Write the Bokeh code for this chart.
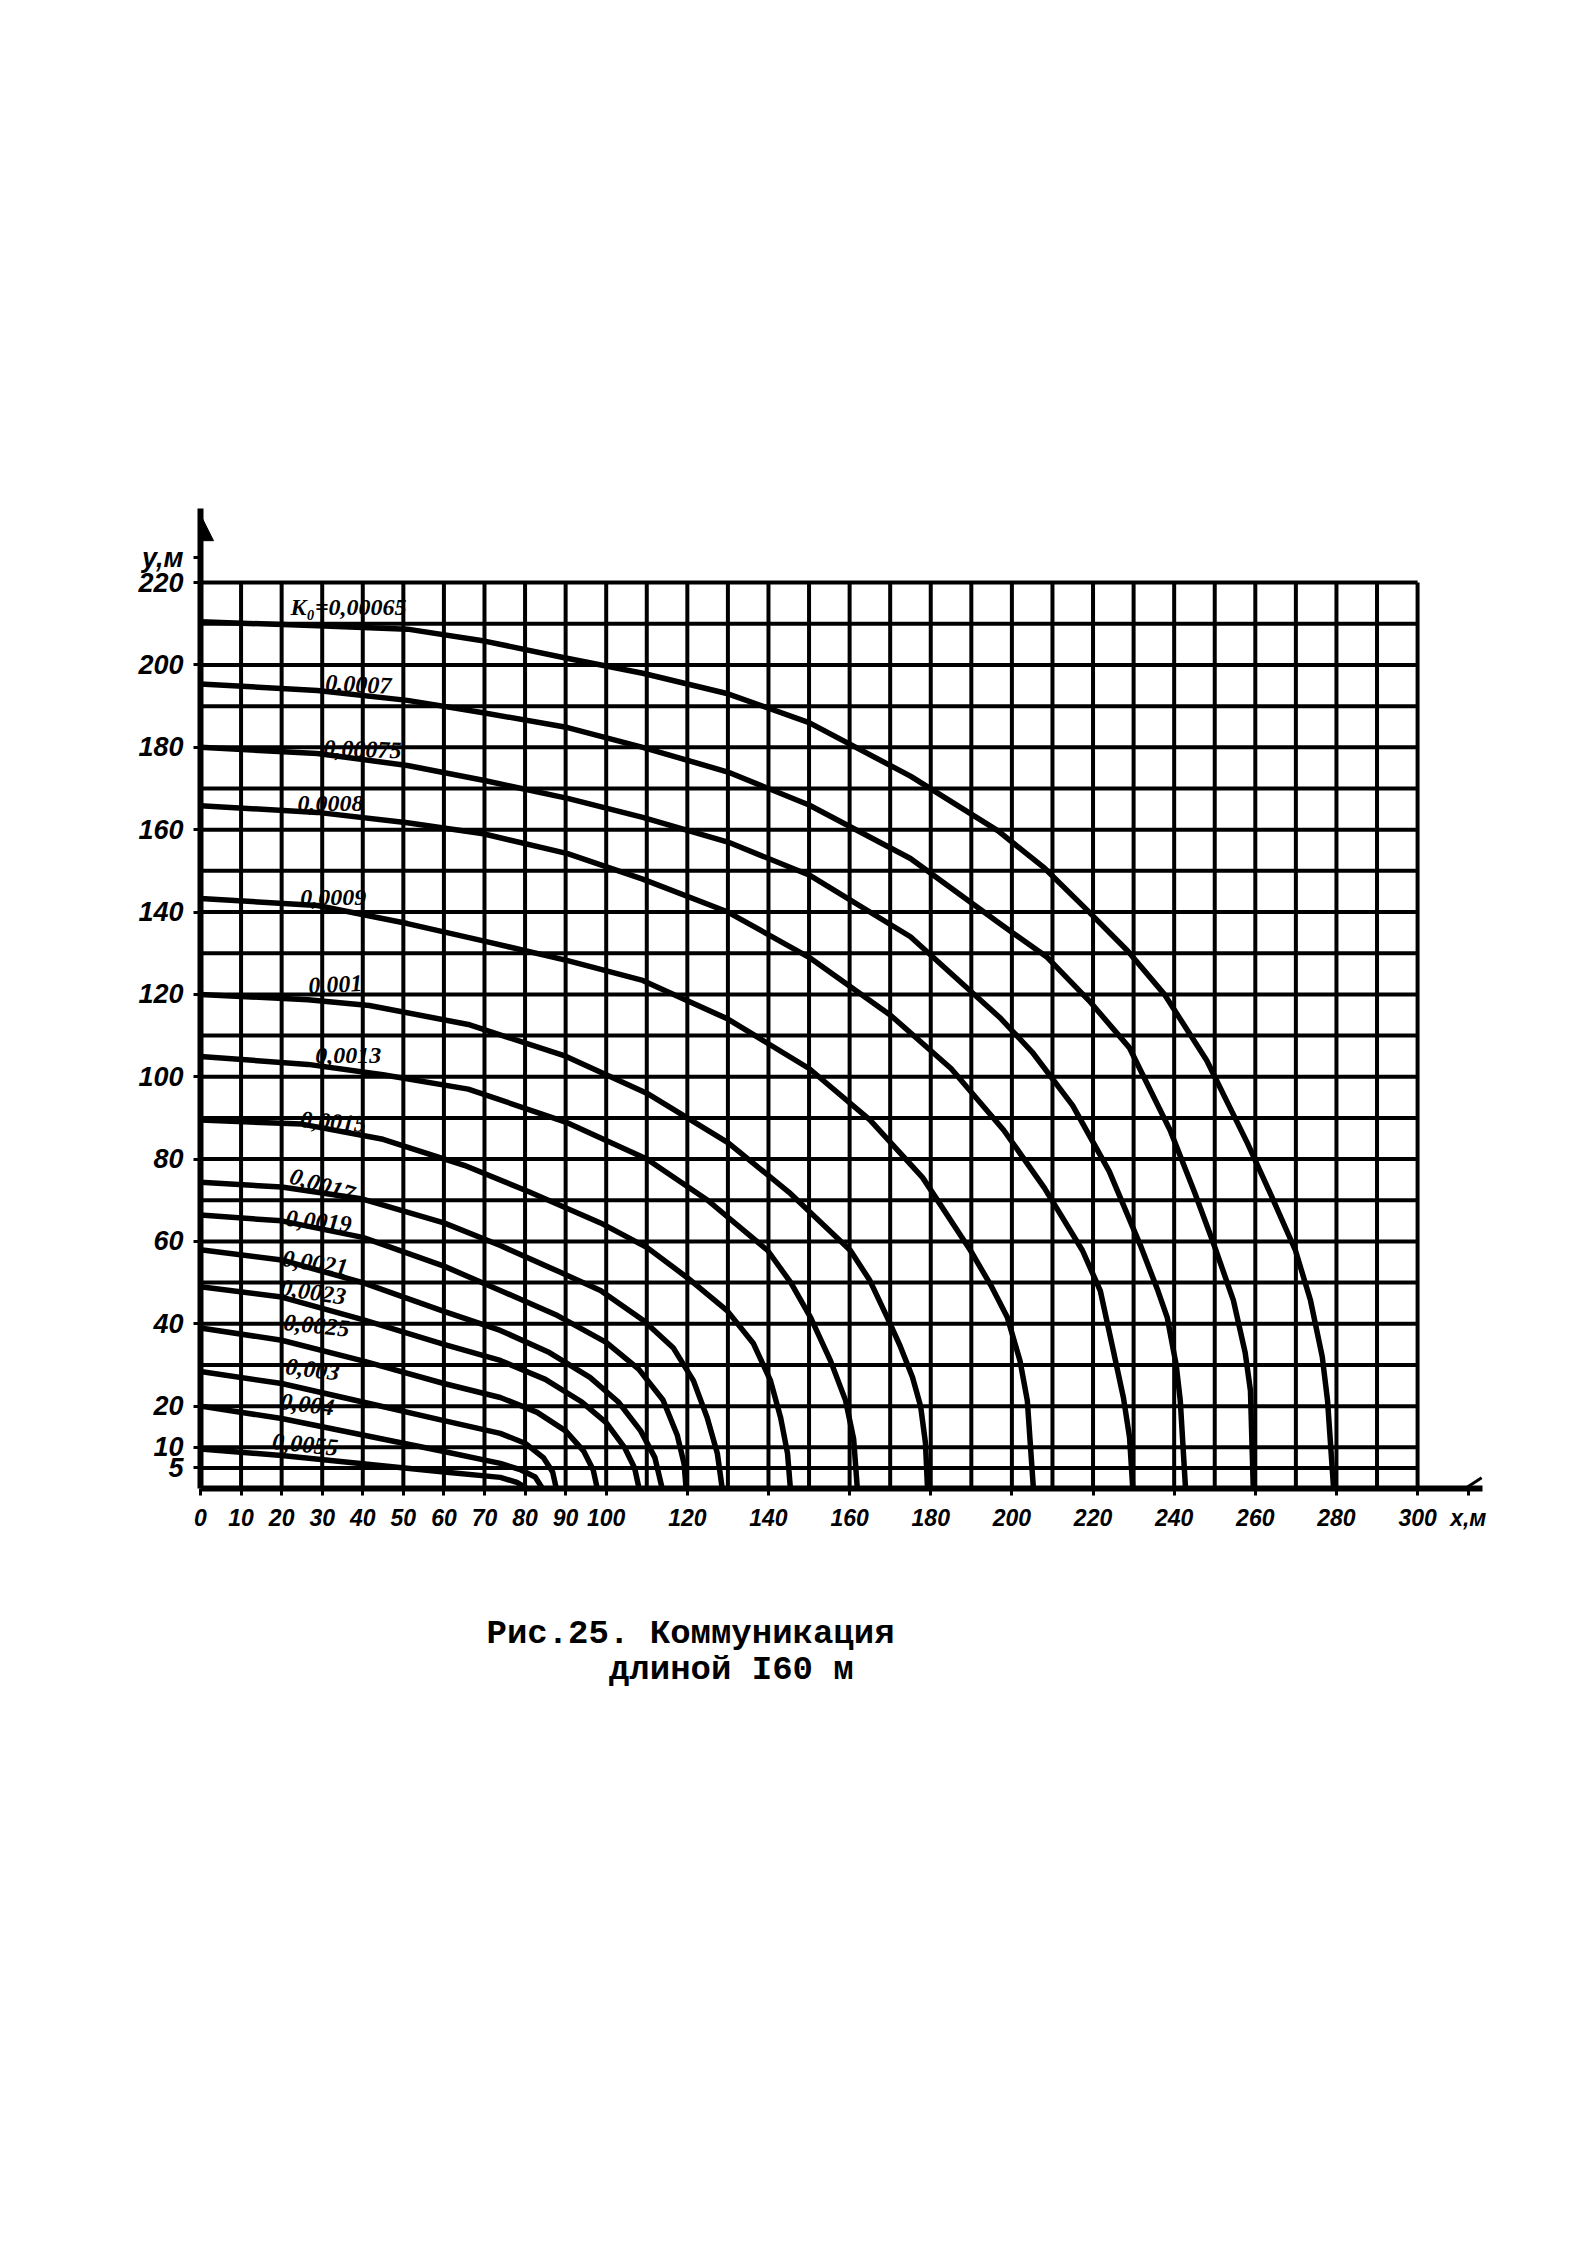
from bokeh.plotting import figure
from bokeh.models import Range1d, FixedTicker, Arrow, NormalHead, Title
from bokeh.core.properties import value
from bokeh.embed import file_html
from bokeh.resources import INLINE

# ---------------- data ----------------
X_TICKS = [0, 10, 20, 30, 40, 50, 60, 70, 80, 90, 100, 120, 140, 160, 180,
           200, 220, 240, 260, 280, 300]
Y_TICKS = [5, 10, 20, 40, 60, 80, 100, 120, 140, 160, 180, 200, 220]
X_NAME_AT = 312.5
Y_NAME_AT = 226
GRID_X = [10, 20, 30, 40, 50, 60, 70, 80, 90, 100, 110, 120, 130, 140, 150,
          160, 170, 180, 190, 200, 210, 220, 230, 240, 250, 260, 270, 280,
          290, 300]
GRID_Y = [5, 10, 20, 30, 40, 50, 60, 70, 80, 90, 100, 110, 120, 130, 140,
          150, 160, 170, 180, 190, 200, 210, 220]

K_LABELS = ["K₀=0,00065", "0,0007", "0,00075", "0,0008", "0,0009", "0,001",
            "0,0013", "0,0015", "0,0017", "0,0019", "0,0021", "0,0023",
            "0,0025", "0,003", "0,004", "0,0055"]

x_00065 = [0, 29, 51, 70, 90, 109, 130, 150, 175, 196.6, 208, 218, 228.5, 237.6, 248, 258, 264, 269.9, 273.6, 276.5, 277.8, 279.3]
y_00065 = [210.5, 209.5, 208.7, 205.8, 201.7, 198, 193, 186, 173, 159.7, 150.7, 141, 130.6, 120, 104, 84, 71, 57.8, 45.7, 32, 21.4, 0]
x_0007 = [0, 28.8, 51, 69.7, 90.5, 109, 130, 150, 175, 197, 208.7, 219, 229, 239, 245, 249.7, 254.6, 257.5, 258.8, 259.5]
y_0007 = [195.4, 193.8, 191.4, 188.4, 184.8, 180, 174, 166, 153, 137.2, 129, 118.5, 107, 87, 72, 59.5, 45.7, 33, 23.8, 0]
x_00075 = [0, 28.8, 51, 69.7, 90.5, 109, 130, 150, 175, 197, 205, 215, 224, 231.7, 236, 238.3, 240.5, 241.5, 242.8]
y_00075 = [180, 178.5, 175.6, 172, 167.6, 163, 157, 149, 134, 114.4, 106, 93, 77, 59, 48, 41.5, 30, 21.4, 0]
x_0008 = [0, 28.8, 51, 69.7, 90.5, 109, 130, 150, 170, 185, 198, 208, 217.4, 221.8, 225, 227.5, 229, 229.8]
y_0008 = [165.8, 164.2, 161.7, 159, 154.2, 148, 140, 129, 115, 102, 87, 73, 57.8, 48, 33.5, 22, 12.4, 0]
x_0009 = [0, 28.8, 51, 69.7, 90.5, 109, 130, 150, 165, 178, 189.8, 195, 198.9, 202, 203.8, 205.3]
y_0009 = [143.3, 141.6, 137.2, 133, 128.2, 123.4, 114, 102, 89.5, 75.5, 57.8, 49, 41.5, 31, 21.4, 0]
x_001 = [0, 26.5, 41.6, 66, 90, 110, 130, 145, 160.2, 165, 169.3, 172.5, 175.5, 177.5, 178.7, 179.2]
y_001 = [120, 118.7, 117.3, 112.7, 105, 96, 84, 72, 57.8, 50.5, 41.5, 34.5, 27, 20, 11, 0]
x_0013 = [0, 26.5, 45, 66, 90, 110, 125, 139.8, 145.5, 150.4, 155.3, 159, 161, 161.9]
y_0013 = [104.9, 103, 100.5, 97, 89, 80, 70, 57.8, 50, 41.5, 31, 21.4, 12, 0]
x_0015 = [0, 25, 45, 65, 81.1, 98.6, 110.1, 120, 129.8, 136.3, 140.5, 143, 144.7, 145.4]
y_0015 = [89.5, 88.5, 84.8, 78.5, 72, 64.5, 58.5, 51.2, 43.2, 35.2, 26.2, 17.2, 8.5, 0]
x_0017 = [0, 20, 40, 60, 73.9, 88.7, 98.6, 109.2, 116.5, 121.5, 124.9, 127.4, 128.6]
y_0017 = [74.4, 73.2, 70.3, 64.5, 59, 52.5, 48.1, 40.8, 34.2, 26.2, 17.2, 8.5, 0]
x_0019 = [0, 20, 40, 60, 73.9, 88, 100, 108, 114, 117.5, 119.2, 119.7]
y_0019 = [66.4, 65, 61, 54, 48.1, 42, 35.5, 29, 21.5, 13, 6, 0]
x_0021 = [0, 20, 40, 60, 73.9, 86, 96, 103, 108.5, 112, 113.8]
y_0021 = [58, 55.5, 50, 43, 38.4, 33, 27, 21, 14, 7.5, 0]
x_0023 = [0, 20, 40, 60, 73.9, 85, 94, 100, 104.5, 107, 108.1]
y_0023 = [49, 46.5, 41, 35, 31.1, 26.5, 21, 16, 10, 5, 0]
x_0025 = [0, 20, 40, 60, 73.9, 83, 90, 94.5, 96.8, 97.8]
y_0025 = [39, 36, 31, 25.5, 22.1, 18.5, 14, 9, 4.5, 0]
x_003 = [0, 20, 40, 60, 73.9, 80, 84.5, 86.8, 87.7]
y_003 = [28.4, 25.5, 21, 16.5, 13.4, 11, 7.5, 4, 0]
x_004 = [0, 20, 40, 60, 73.9, 79, 82.5, 84.3]
y_004 = [20, 17, 13, 9, 6.1, 4.5, 2.8, 0]
x_0055 = [0, 20, 40, 60, 73.9, 78, 80.5]
y_0055 = [9.6, 8, 6, 4, 2.7, 1.5, 0]

CURVES_X = [x_00065, x_0007, x_00075, x_0008, x_0009, x_001, x_0013, x_0015,
            x_0017, x_0019, x_0021, x_0023, x_0025, x_003, x_004, x_0055]
CURVES_Y = [y_00065, y_0007, y_00075, y_0008, y_0009, y_001, y_0013, y_0015,
            y_0017, y_0019, y_0021, y_0023, y_0025, y_003, y_004, y_0055]

# label placement (data units)
LAB_X = [22.2, 30.8, 30.3, 23.9, 24.6, 26.6, 28.3, 24.6, 22.2, 21.0, 20.2,
         19.7, 20.5, 21.0, 19.7, 17.7]
LAB_Y = [214.2, 195.6, 179.7, 166.3, 143.6, 122.0, 105.2, 89.6, 76.0, 65.6,
         55.9, 48.8, 40.3, 29.6, 21.1, 11.4]
LAB_ANGLE = [0, -0.05, -0.03, 0, 0, 0.05, 0, -0.08, -0.3, -0.1, -0.15, -0.15,
             -0.1, -0.12, -0.12, -0.1]

CAPTION = "Рис.25. Коммуникация\n\u00a0\u00a0\u00a0\u00a0\u00a0\u00a0длиной I60 м"

# ---------------- figure ----------------
p = figure(width=1578, height=1788,
           x_range=Range1d(0, 316), y_range=Range1d(0, 238),
           output_backend="svg", toolbar_location=None,
           min_border_left=200, min_border_right=96,
           min_border_top=508, min_border_bottom=300)
p.xgrid.visible = False
p.ygrid.visible = False
p.outline_line_color = None
p.background_fill_color = "white"
p.border_fill_color = "white"

# grid drawn as segments
p.segment(x0=GRID_X, y0=[0] * len(GRID_X), x1=GRID_X, y1=[220] * len(GRID_X),
          line_color="black", line_width=4)
p.segment(x0=[0] * len(GRID_Y), y0=GRID_Y, x1=[300] * len(GRID_Y), y1=GRID_Y,
          line_color="black", line_width=4)

for cx, cy in zip(CURVES_X, CURVES_Y):
    p.line(cx, cy, line_color="black", line_width=5.5, line_join="round",
           line_cap="round")

p.text(x=LAB_X, y=LAB_Y, text=K_LABELS, angle=LAB_ANGLE,
       text_font=value("Liberation Serif"), text_font_style="bold italic",
       text_font_size="24px", text_color="black",
       text_baseline="middle", text_align="left")

# x-axis extension hook
p.line([312, 315.8], [0.2, 2.6], line_color="black", line_width=3)

# y axis arrow
p.add_layout(Arrow(end=NormalHead(size=26, fill_color="black",
                                  line_color="black"),
                   x_start=0, y_start=226, x_end=0, y_end=236.5,
                   line_color="black", line_width=4))

for ax in (p.xaxis[0], p.yaxis[0]):
    ax.axis_line_color = "black"
    ax.axis_line_width = 6
    ax.major_tick_line_color = "black"
    ax.major_tick_line_width = 3
    ax.major_tick_in = 0
    ax.major_tick_out = 7
    ax.minor_tick_line_color = None
    ax.major_label_text_font = "Liberation Sans"
    ax.major_label_text_font_style = "bold italic"
    ax.major_label_text_color = "black"

p.xaxis[0].ticker = FixedTicker(ticks=X_TICKS + [X_NAME_AT])
p.xaxis[0].major_label_overrides = {X_NAME_AT: "x,м"}
p.xaxis[0].major_label_text_font_size = "23px"
p.xaxis[0].major_label_standoff = 9
p.yaxis[0].ticker = FixedTicker(ticks=Y_TICKS + [Y_NAME_AT])
p.yaxis[0].major_label_overrides = {Y_NAME_AT: "y,м"}
p.yaxis[0].major_label_text_font_size = "27px"
p.yaxis[0].major_label_standoff = 10

# caption
p.add_layout(Title(text=CAPTION, align="left", offset=286, standoff=160,
                   text_font="Liberation Mono", text_font_style="bold",
                   text_font_size="34px", text_line_height=0.95,
                   text_color="black"), "below")

open("out.html", "w").write(file_html(p, INLINE))
